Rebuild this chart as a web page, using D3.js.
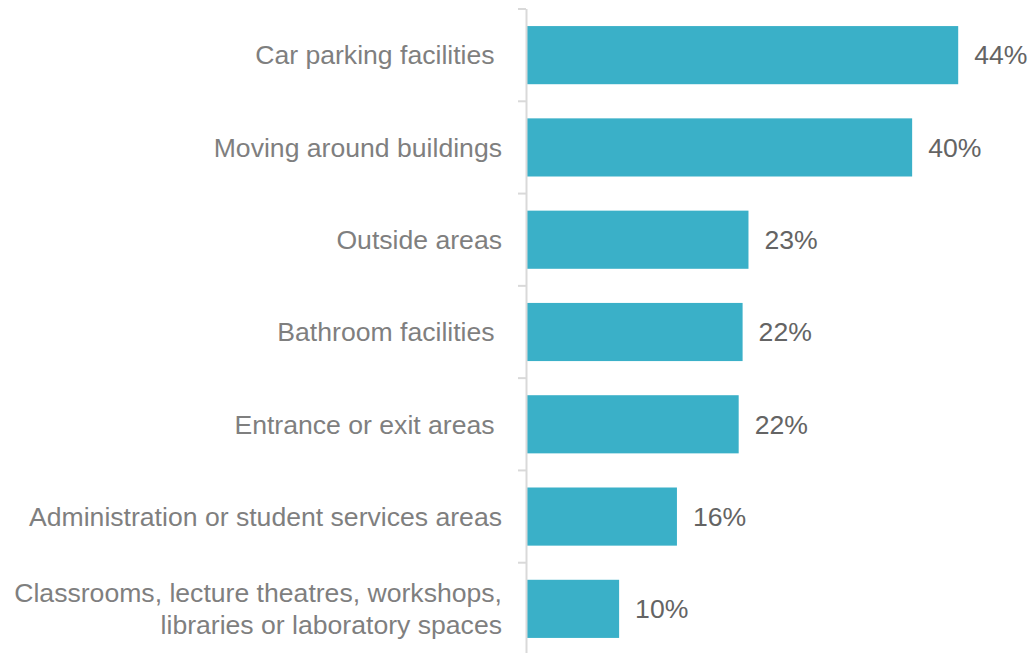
<!DOCTYPE html>
<html>
<head>
<meta charset="utf-8">
<script src="https://cdn.jsdelivr.net/npm/d3@7"></script>
<style>
  body { margin: 0; background: #fff; }
  svg { display: block; font-family: "Liberation Sans", Arial, sans-serif; }
</style>
</head>
<body>
<svg id="chart" width="1030" height="653"></svg>
<script>
// data
var categories = [
    ["Car parking facilities\u00a0"],
    ["Moving around buildings"],
    ["Outside areas"],
    ["Bathroom facilities\u00a0"],
    ["Entrance or exit areas\u00a0"],
    ["Administration or student services areas"],
    ["Classrooms, lecture theatres, workshops,", "libraries or laboratory spaces"]
]
var values = [44.0, 39.3, 22.6, 22.0, 21.6, 15.3, 9.4]
var valueLabels = ["44%", "40%", "23%", "22%", "22%", "16%", "10%"]

var svg = d3.select("#chart")

var y = d3.scaleBand()
    .domain(d3.range(categories.length))
    .range([9, 655])
    .paddingInner(0.37)
    .paddingOuter(0.185)

var x = d3.scaleLinear()
    .domain([0, 50])
    .range([527, 1017])

// bars
svg.selectAll("rect.bar")
    .data(values)
    .enter()
    .append("rect")
    .attr("class", "bar")
    .attr("x", x(0))
    .attr("y", function(d, i) { return y(i) })
    .attr("width", function(d) { return x(d) - x(0) })
    .attr("height", y.bandwidth())
    .attr("fill", "#3AB0C8")

// axis line and ticks at the band edges
var step = y.step()
svg.append("line")
    .attr("x1", 526.5).attr("x2", 526.5)
    .attr("y1", 9).attr("y2", 655)
    .attr("stroke", "#d9d9d9")
    .attr("stroke-width", 2)

svg.selectAll("line.tick")
    .data(d3.range(categories.length))
    .enter()
    .append("line")
    .attr("class", "tick")
    .attr("x1", 518).attr("x2", 526)
    .attr("y1", function(i) { return 9 + i * step })
    .attr("y2", function(i) { return 9 + i * step })
    .attr("stroke", "#d9d9d9")
    .attr("stroke-width", 2)

// category labels
var lineH = 32
var catText = svg.selectAll("text.cat")
    .data(categories)
    .enter()
    .append("text")
    .attr("class", "cat")
    .attr("text-anchor", "end")
    .attr("font-size", "26.6px")
    .attr("fill", "#7f7f7f")

catText.each(function(lines, i) {
    var t = d3.select(this)
    var cy = y(i) + y.bandwidth() / 2
    var top = cy - (lines.length - 1) * lineH / 2
    lines.forEach(function(s, k) {
        t.append("tspan")
            .attr("x", 502)
            .attr("y", top + k * lineH)
            .attr("dy", "0.35em")
            .text(s)
    })
})

// value labels
svg.selectAll("text.val")
    .data(values)
    .enter()
    .append("text")
    .attr("class", "val")
    .attr("x", function(d) { return x(d) + 16 })
    .attr("y", function(d, i) { return y(i) + y.bandwidth() / 2 })
    .attr("dy", "0.35em")
    .attr("font-size", "26.6px")
    .attr("fill", "#646464")
    .text(function(d, i) { return valueLabels[i] })
</script>
</body>
</html>
